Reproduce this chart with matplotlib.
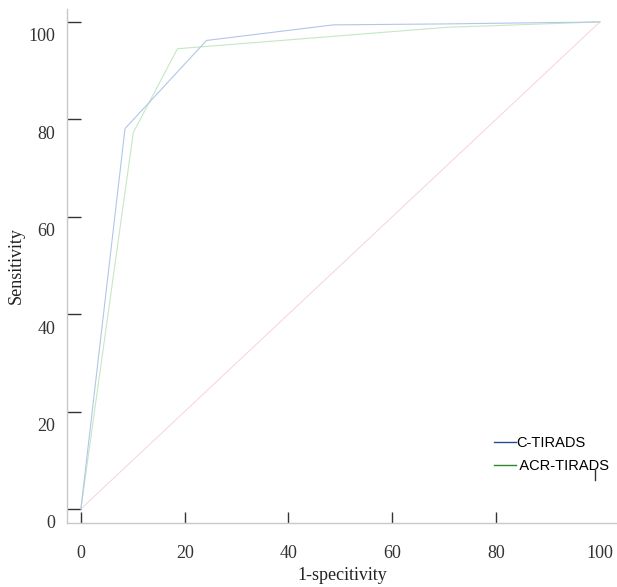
import matplotlib
matplotlib.use("Agg")
import matplotlib.pyplot as plt
from matplotlib.transforms import ScaledTranslation
from matplotlib.lines import Line2D

# Data (1-specificity %, sensitivity %)
c_tirads_x = [0, 8.5, 24.2, 48.6, 70.4, 100]
c_tirads_y = [0, 78.1, 96.2, 99.4, 99.6, 100]
acr_tirads_x = [0, 10.1, 18.6, 70.4, 100]
acr_tirads_y = [0, 77.3, 94.5, 98.9, 100]
ref_x = [0, 100]
ref_y = [0, 100]
ticks = [0, 20, 40, 60, 80, 100]
tick_labels = ["0", "20", "40", "60", "80", "100"]
series_names = ["C-TIRADS", " ACR-TIRADS"]

fig = plt.figure(figsize=(6.17, 5.87), dpi=100)
ax = fig.add_axes([0.108, 0.109, 0.892, 0.876])

ax.plot(ref_x, ref_y, color="#f7d3d8", lw=0.7, zorder=1)
ax.plot(acr_tirads_x, acr_tirads_y, color="#c4e8c4", lw=0.8, zorder=2)
ax.plot(c_tirads_x, c_tirads_y, color="#b0c8e6", lw=0.8, zorder=3)

ax.set_xlim(-2.75, 103.3)
ax.set_ylim(-2.9, 102.7)

serif = ["Liberation Serif", "DejaVu Serif"]
ax.set_xticks(ticks)
ax.set_xticklabels(tick_labels, family=serif, fontsize=13, color="#333333")
ax.set_yticks(ticks)
ax.set_yticklabels(tick_labels, family=serif, fontsize=13, color="#333333")

ax.tick_params(axis="y", direction="in", length=10, width=1.0, color="#333333", pad=8)
ax.tick_params(axis="x", direction="in", length=8, width=1.0, color="#333333", pad=16)

# y labels sit lower than their tick marks
for lab in ax.get_yticklabels():
    lab.set_transform(lab.get_transform() + ScaledTranslation(0, -13 / 100, fig.dpi_scale_trans))

# the 100 tick on the x axis is misplaced in the reference
xt = ax.xaxis.get_major_ticks()
xt[-1].tick1line.set_visible(False)
ax.axvline(99, ymin=0.084, ymax=0.103, color="#333333", lw=1.0)

for s in ["top", "right"]:
    ax.spines[s].set_visible(False)
for s in ["left", "bottom"]:
    ax.spines[s].set_color("#c8c8c8")
    ax.spines[s].set_linewidth(1.0)

ax.set_xlabel("1-specitivity", family=serif, fontsize=13, color="#222222")
ax.xaxis.set_label_coords(0.5, -0.085)
ax.set_ylabel("Sensitivity", family=serif, fontsize=13, color="#222222")
ax.yaxis.set_label_coords(-0.076, 0.5)

handles = [Line2D([], [], color="#1f4e8c", lw=1.0), Line2D([], [], color="#2a8a2a", lw=1.0)]
ax.legend(handles, series_names, loc="upper left",
          bbox_to_anchor=(494 / 617, 1 - 436 / 587), bbox_transform=fig.transFigure,
          frameon=False, handlelength=1.5, handletextpad=0.0, borderpad=0, borderaxespad=0,
          labelspacing=0.6, prop={"family": ["Liberation Sans", "DejaVu Sans"], "size": 10.5})

fig.savefig("out.png", dpi=100)
